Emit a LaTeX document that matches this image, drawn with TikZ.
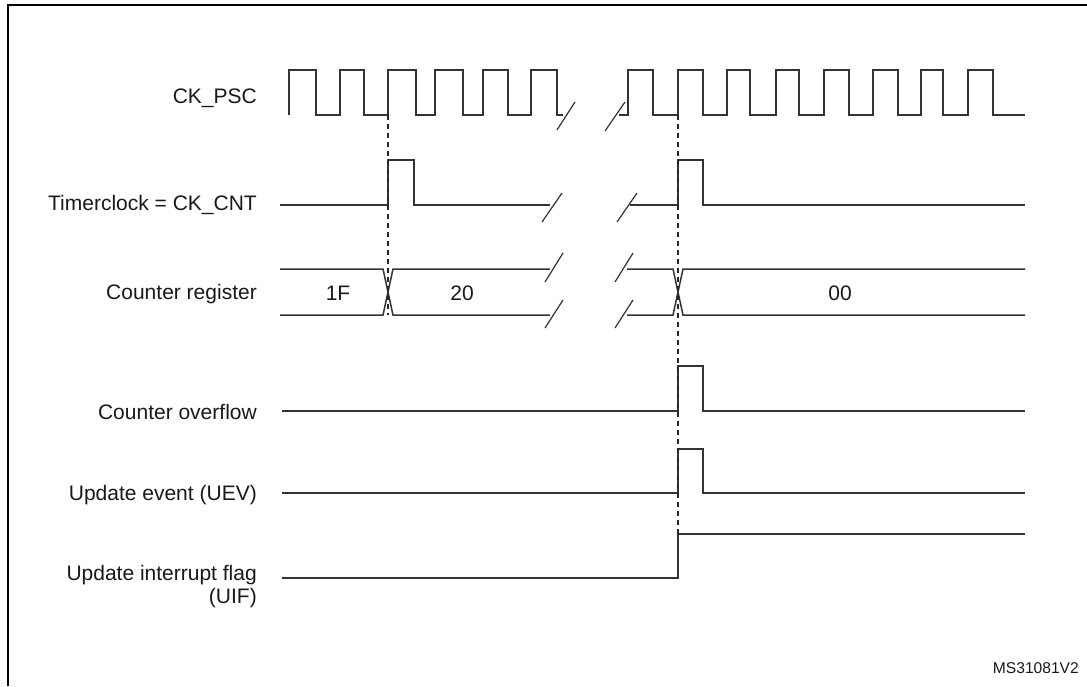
\documentclass[tikz,border=0pt]{standalone}
\usepackage{fontspec}
\setmainfont{Liberation Sans}
\begin{document}
\begin{tikzpicture}[x=1pt,y=-1pt,
  wave/.style={line width=1.5pt,draw=black!80,line join=miter},
  brk/.style={line width=1.2pt,draw=black!80},
  guide/.style={line width=1.4pt,draw=black!85,dash pattern=on 5pt off 4pt},
  lbl/.style={anchor=east,inner sep=0pt,text=black!90,font=\fontsize{21}{23}\selectfont},
  val/.style={inner sep=0pt,text=black!90,font=\fontsize{21}{23}\selectfont},
  frame/.style={line width=2pt,draw=black}]
\useasboundingbox (0,0) rectangle (1087,686);
\fill[white] (0,0) rectangle (1087,686);
% frame
\draw[frame] (7.5,686) -- (7.5,5) -- (1087,5);

% labels
\node[lbl] (lpsc) at (257,98) {CK\_PSC};
\node[lbl] (lcnt) at (257,205) {Timerclock = CK\_CNT};
\node[lbl] (lreg) at (257,294) {Counter register};
\node[lbl] (lovf) at (257,412) {Counter overflow};
\node[lbl] (luev) at (257,495) {Update event (UEV)};
\node[lbl,align=right] (luif) at (257,587) {Update interrupt flag\\(UIF)};
\node[anchor=east,inner sep=0pt,text=black!90,font=\fontsize{15.6}{17}\selectfont] (ref) at (1079,668) {MS31081V2};

% CK_PSC
\draw[wave] (289,115) -- (289,70) -- (316,70) -- (316,115) -- (340,115) -- (340,70) -- (364,70) -- (364,115)
  -- (388,115) -- (388,70) -- (416,70) -- (416,115) -- (435,115) -- (435,70) -- (463,70) -- (463,115)
  -- (483,115) -- (483,70) -- (508,70) -- (508,115) -- (531,115) -- (531,70) -- (557,70) -- (557,115) -- (563,115);
\draw[brk] (557,130) -- (575,102);
\draw[brk] (605,131) -- (625,102);
\draw[wave] (619,115) -- (628,115) -- (628,70) -- (653,70) -- (653,115) -- (678,115) -- (678,70) -- (703,70) -- (703,115)
  -- (727,115) -- (727,70) -- (750,70) -- (750,115) -- (776,115) -- (776,70) -- (799,70) -- (799,115)
  -- (824,115) -- (824,70) -- (849,70) -- (849,115) -- (873,115) -- (873,70) -- (898,70) -- (898,115)
  -- (921,115) -- (921,70) -- (943,70) -- (943,115) -- (968,115) -- (968,70) -- (993,70) -- (993,115) -- (1025,115);

% Timerclock
\draw[wave] (280,205) -- (388,205) -- (388,160) -- (414,160) -- (414,205) -- (550,205);
\draw[brk] (542,222) -- (562,193);
\draw[brk] (617,222) -- (637,193);
\draw[wave] (630,205) -- (678,205) -- (678,160) -- (703,160) -- (703,205) -- (1025,205);

% Counter register
\draw[wave] (280,269) -- (383,269) -- (393,315) -- (550,315);
\draw[wave] (280,315) -- (383,315) -- (393,269) -- (550,269);
\draw[brk] (545,282) -- (563,253);
\draw[brk] (545,328) -- (563,300);
\draw[brk] (615,282) -- (633,253);
\draw[brk] (615,328) -- (633,300);
\draw[wave] (627,269) -- (673,269) -- (683,315) -- (1025,315);
\draw[wave] (627,315) -- (673,315) -- (683,269) -- (1025,269);
\node[val] (v1f) at (338,293) {1F};
\node[val] (v20) at (462,293) {20};
\node[val] (v00) at (840,293) {00};

% Counter overflow
\draw[wave] (282,411) -- (678,411) -- (678,366) -- (703,366) -- (703,411) -- (1025,411);
% UEV
\draw[wave] (282,493) -- (678,493) -- (678,449) -- (703,449) -- (703,493) -- (1025,493);
% UIF
\draw[wave] (282,578) -- (678,578) -- (678,534) -- (1025,534);

% guides
\draw[guide] (388,115) -- (388,315);
\draw[guide] (678,115) -- (678,534);
\end{tikzpicture}
\end{document}
